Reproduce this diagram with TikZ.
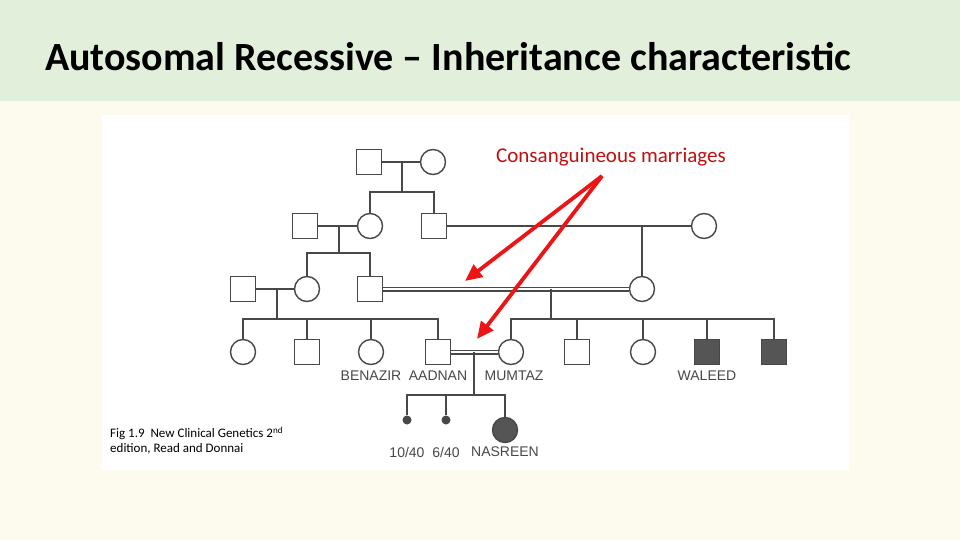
\documentclass[tikz,border=0pt]{standalone}
\usepackage{fontspec}
\setmainfont{Carlito}
\newfontfamily\pedfont{Liberation Sans}
\usetikzlibrary{arrows.meta,positioning}
\definecolor{band}{RGB}{226,239,218}
\definecolor{paper}{RGB}{253,251,237}
\definecolor{ink}{RGB}{72,72,72}
\definecolor{affected}{RGB}{85,85,85}
\definecolor{note}{RGB}{192,16,16}
\definecolor{pointer}{RGB}{236,20,20}

\begin{document}
\begin{tikzpicture}[x=1pt,y=-1pt,
    male/.style={draw=ink,line width=1.4pt,fill=white,minimum size=25pt,inner sep=0pt},
    female/.style={male,circle},
    hit/.style={fill=affected},
    dot/.style={circle,fill=ink,minimum size=9pt,inner sep=0pt},
    link/.style={ink,line width=1.5pt},
    kin/.style={link,double=white,double distance=2.2pt,line width=1.4pt},
    lbl/.style={font=\pedfont\fontsize{14}{14}\selectfont,text=ink,inner sep=0pt}]
  \useasboundingbox (0,0) rectangle (960,540);
  \fill[paper] (0,0) rectangle (960,540);
  \fill[band] (0,0) rectangle (960,101);
  \fill[white] (102,115) rectangle (849,470);
  \node[font=\bfseries\fontsize{40}{40}\selectfont,anchor=west,inner sep=0pt] (title) at (45,57)
    {Autosomal Recessive -- Inheritance characteristic};

  % generation I
  \node[male] (i1) at (369,162) {};
  \node[female] (i2) at (433,162) {};
  % generation II
  \node[male] (ii1) at (305,226) {};
  \node[female] (ii2) at (370,226) {};
  \node[male] (ii3) at (434,226) {};
  \node[female] (ii4) at (704,226) {};
  % generation III
  \node[male] (iii1) at (243,289) {};
  \node[female] (iii2) at (307,289) {};
  \node[male] (iii3) at (370,289) {};
  \node[female] (iii4) at (642,289) {};
  % generation IV
  \node[female] (iv1) at (243,352) {};
  \node[male] (iv2) at (307,352) {};
  \node[female] (iv3) at (371,352) {};
  \node[male] (iv4) at (438,352) {};
  \node[female] (iv5) at (511,352) {};
  \node[male] (iv6) at (577,352) {};
  \node[female] (iv7) at (643,352) {};
  \node[male,hit] (iv8) at (707,352) {};
  \node[male,hit] (iv9) at (774,352) {};
  % generation V
  \node[dot] (v1) at (407,420) {};
  \node[dot] (v2) at (446,420) {};
  \node[female,hit] (v3) at (505,430) {};

  % couples and sibships
  \coordinate (c1) at (402,162);
  \coordinate (s1) at (402,192);
  \draw[link] (i1) -- (i2);
  \draw[link] (c1) -- (s1);
  \draw[link] (ii2.north) |- (s1) -| (ii3.north);

  \coordinate (c2) at (339,226);
  \coordinate (s2) at (339,253);
  \draw[link] (ii1) -- (ii2);
  \draw[link] (c2) -- (s2);
  \draw[link] (iii2.north) |- (s2) -| (iii3.north);

  \coordinate (c3) at (642,226);
  \draw[link] (ii3) -- (ii4);
  \draw[link] (c3) -- (iii4.north);

  \coordinate (c4) at (277,289);
  \coordinate (s4) at (277,319);
  \draw[link] (iii1) -- (iii2);
  \draw[link] (c4) -- (s4);
  \draw[link] (iv1.north) |- (s4) -| (iv4.north);
  \draw[link] (iv2.north) -- (iv2.north |- s4);
  \draw[link] (iv3.north) -- (iv3.north |- s4);

  \coordinate (c5) at (551,289);
  \coordinate (s5) at (551,319);
  \draw[kin] (iii3) -- (iii4);
  \draw[link] (c5) -- (s5);
  \draw[link] (iv5.north) |- (s5) -| (iv9.north);
  \foreach \k in {iv6,iv7,iv8}
    \draw[link] (\k.north) -- (\k.north |- s5);

  \coordinate (c6) at (474,352);
  \coordinate (s6) at (474,395);
  \draw[kin] (iv4) -- (iv5);
  \draw[link] (c6) -- (s6);
  \draw[link] (v1) |- (s6) -| (v3.north);
  \draw[link] (v2) -- (v2 |- s6);

  % names
  \node[lbl,below=5pt of iv3] (benazir) {BENAZIR};
  \node[lbl,below=5pt of iv4] (aadnan) {AADNAN};
  \node[lbl,below=5pt of iv5,xshift=3pt] (mumtaz) {MUMTAZ};
  \node[lbl,below=5pt of iv8] (waleed) {WALEED};
  \node[lbl] (ga) at (407,452) {10/40};
  \node[lbl] (gb) at (446,452) {6/40};
  \node[lbl] (nasreen) at (505,452) {NASREEN};

  % callout
  \node[text=note,font=\fontsize{21}{21}\selectfont] (consang) at (611,157) {Consanguineous marriages};
  \coordinate (tail) at (602,176);
  \coordinate (hitA) at (465,281);
  \coordinate (hitB) at (477,339);
  \draw[pointer,line width=3.8pt,-{Triangle[length=17pt,width=15pt]}] (tail) -- (hitA);
  \draw[pointer,line width=3.8pt,-{Triangle[length=17pt,width=15pt]}] (tail) -- (hitB);

  \node[font=\fontsize{13}{15}\selectfont,align=left,anchor=north west,inner sep=0pt] (source) at (110,427)
    {Fig 1.9\ \ New Clinical Genetics 2\textsuperscript{nd}\\edition, Read and Donnai};
\end{tikzpicture}
\end{document}
